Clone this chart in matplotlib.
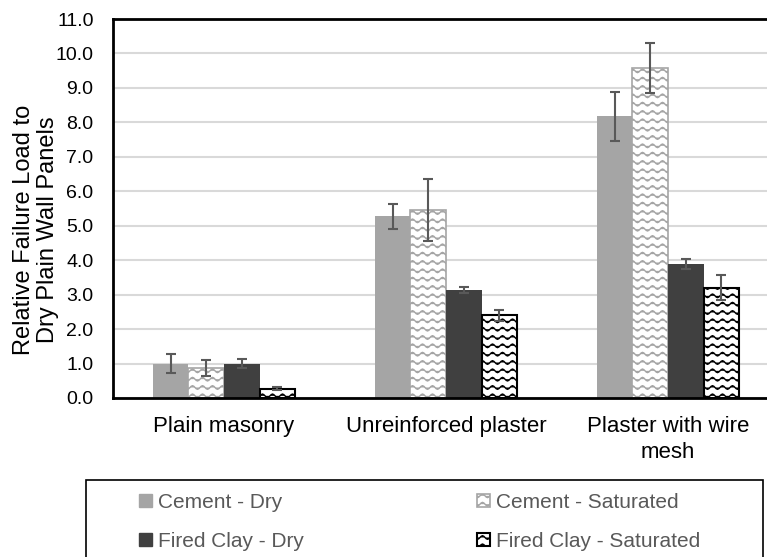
import warnings
import numpy as np
import matplotlib
matplotlib.use('Agg')
import matplotlib.pyplot as plt
import matplotlib.hatch as mhatch
from matplotlib.patches import Patch, Rectangle
from matplotlib.path import Path

warnings.filterwarnings('ignore')

categories = ['Plain masonry', 'Unreinforced plaster', 'Plaster with wire\nmesh']
series = ['Cement - Dry', 'Cement - Saturated', 'Fired Clay - Dry', 'Fired Clay - Saturated']
values = [
    [1.00, 5.27, 8.18],   # Cement - Dry
    [0.87, 5.47, 9.58],   # Cement - Saturated
    [1.00, 3.13, 3.89],   # Fired Clay - Dry
    [0.27, 2.40, 3.20],   # Fired Clay - Saturated
]
errors = [
    [0.28, 0.36, 0.71],
    [0.22, 0.90, 0.72],
    [0.14, 0.09, 0.14],
    [0.04, 0.16, 0.37],
]
yticks = np.arange(0, 12, 1)


# wavy hatch, like the Excel "wave" pattern fill
class WaveHatch(mhatch.HatchPatternBase):
    periods = 10
    per_period = 8

    def __init__(self, hatch, density):
        self.num_rows = hatch.count('~') * density
        self.pts = self.periods * self.per_period + 1
        self.num_vertices = self.num_rows * self.pts

    def set_vertices_and_codes(self, vertices, codes):
        t = np.linspace(0, 1, self.pts)
        wave = 0.018 * np.sin(2 * np.pi * self.periods * t)
        for i in range(self.num_rows):
            y0 = (i + 0.5) / self.num_rows
            sl = slice(i * self.pts, (i + 1) * self.pts)
            vertices[sl, 0] = t
            vertices[sl, 1] = y0 + wave
            codes[sl] = Path.LINETO
            codes[i * self.pts] = Path.MOVETO


mhatch._hatch_types.append(WaveHatch)

styles = [
    dict(color='#a5a5a5'),
    dict(facecolor='white', edgecolor='#a5a5a5', hatch='~~', linewidth=1.2),
    dict(color='#404040'),
    dict(facecolor='white', edgecolor='black', hatch='~~', linewidth=1.5),
]

plt.rcParams['font.family'] = ['Liberation Sans', 'DejaVu Sans']
plt.rcParams['hatch.linewidth'] = 1.0

fig = plt.figure(figsize=(7.67, 5.57), dpi=100)
ax = fig.add_axes([113 / 767, 1 - 398 / 557, 1 - 113 / 767, (398 - 19) / 557])

x = np.arange(len(categories))
width = 0.16
for i, name in enumerate(series):
    ax.bar(x + (i - 1.5) * width, values[i], width, label=name, zorder=2, **styles[i])
    ax.errorbar(x + (i - 1.5) * width, values[i], yerr=errors[i], fmt='none',
                ecolor='#595959', elinewidth=1.5, capsize=3.3, capthick=1.5, zorder=3)

ax.set_xlim(-0.5, -0.5 + 654 / 222)
ax.set_ylim(0, 11)
ax.set_yticks(yticks)
ax.set_yticklabels([f'{v:.1f}' for v in yticks], fontsize=14)
ax.set_xticks(x)
ax.set_xticklabels(categories, linespacing=1.3, fontsize=16)
ax.tick_params(axis='both', length=0, colors='black')
ax.tick_params(axis='y', pad=14)
ax.tick_params(axis='x', pad=13)
ax.yaxis.grid(True, color='#d9d9d9', linewidth=1.5, zorder=0)
ax.set_axisbelow(True)
for side in ['left', 'top', 'bottom']:
    ax.spines[side].set_linewidth(2)
    ax.spines[side].set_color('black')
ax.spines['right'].set_visible(False)

fig.text(36 / 767, 1 - 230 / 557, 'Relative Failure Load to\nDry Plain Wall Panels',
         rotation=90, ha='center', va='center', fontsize=17, linespacing=1.12)

# legend box (Excel style, runs off the bottom of the image)
fig.patches.append(Rectangle((86 / 767, -0.05), (763 - 86) / 767, 0.05 + 1 - 480 / 557,
                             transform=fig.transFigure, fill=False,
                             edgecolor='black', linewidth=1.2))

handles = [Patch(label=series[i], **styles[i]) for i in range(4)]
for left, idx in [(139, [0, 2]), (477, [1, 3])]:
    fig.legend([handles[j] for j in idx], [series[j] for j in idx],
               loc='upper left', bbox_to_anchor=(left / 767, 1 - 493 / 557),
               frameon=False, fontsize=15, labelcolor='#595959',
               handlelength=0.6, handleheight=0.6, handletextpad=0.3,
               labelspacing=0.95, borderpad=0, borderaxespad=0)

fig.savefig('out.png', dpi=100)
